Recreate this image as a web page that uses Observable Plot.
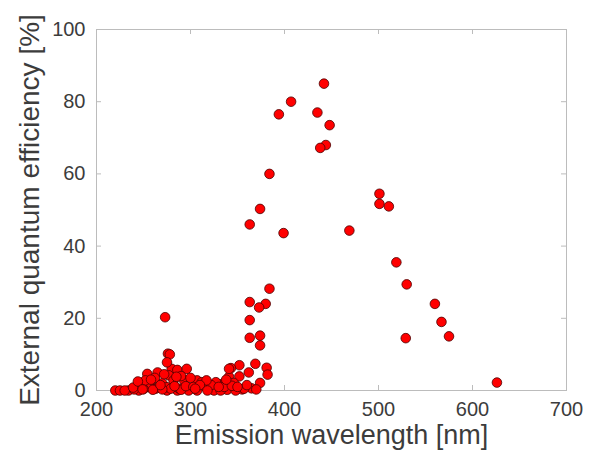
<!DOCTYPE html>
<html>
<head>
<meta charset="utf-8">
<script src="https://cdn.jsdelivr.net/npm/d3@7"></script>
<script src="https://cdn.jsdelivr.net/npm/@observablehq/plot@0.6"></script>
<style>
  html, body { margin: 0; padding: 0; background: #fff; }
  #chart { width: 600px; height: 453px; }
</style>
</head>
<body>
<div id="chart"></div>
<script>
// Emission wavelength [nm]
const wavelength = [
  442, 407, 394, 435, 448, 444, 438, 384, 374, 363,
  399, 469, 501, 501, 511, 519, 530, 560, 567, 575,
  529, 626, 384, 363, 380, 373, 363, 363, 374, 374,
  273, 276, 278, 369, 381, 382, 362, 352, 343, 374,
  365, 341, 352, 335, 346, 313, 328, 300, 339, 355,
  254, 265, 280, 286, 296, 277, 248, 257, 270, 282,
  293, 263, 275, 286, 245, 220, 225, 234, 298, 307,
  275, 245, 256, 266, 275, 279, 288, 307, 312, 320,
  327, 325, 332, 341, 357, 348, 230, 240, 250, 260,
  270, 290, 295, 303, 316, 322, 336, 344, 360, 370,
  262, 290, 268, 252, 239, 244, 283, 317, 310, 305,
  318, 330, 338, 350, 258, 272, 285, 300, 249
];
// External quantum efficiency [%]
const eqe = [
  85, 80, 76.5, 77, 73.5, 68, 67.2, 60, 50.3, 46,
  43.6, 44.3, 54.5, 51.7, 51, 35.5, 29.4, 24, 19, 15,
  14.5, 2.2, 28.2, 24.5, 24, 23, 19.5, 14.6, 15.2, 12.5,
  20.3, 10.2, 10, 7.4, 6.3, 4.4, 5, 7, 6.2, 2.1,
  0.6, 3.8, 3.9, 2, 2.1, 2.1, 1.9, 0.5, 0.2, 0.3,
  4.6, 5, 6, 5.7, 6, 4.2, 1.8, 1.8, 2, 2.8,
  2.9, 0.5, 0, 0, 0, 0, 0, 0, 0, 2.8,
  7.8, 1.4, 0.9, 0.9, 0.9, 0.5, 0.5, 0, 2.3, 0.5,
  2.3, 0, 0, 6, 0.5, 0, 0, 0.3, 0.4, 0.2,
  0.3, 0.2, 1.2, 1, 1, 1.5, 1, 1.3, 1.5, 0.3,
  3.5, 4, 1.5, 2.8, 0.8, 2.5, 1.2, 2.8, 1.5, 0.5,
  0, 1, 3, 1, 3, 4.5, 3.8, 3.5, 0.3
];
const xTicks = [200, 300, 400, 500, 600, 700];
const yTicks = [0, 20, 40, 60, 80, 100];
const xLabel = "Emission wavelength [nm]";
const yLabel = "External quantum efficiency [%]";

const data = wavelength.map((w, i) => ({w, q: eqe[i]}));

const W = 600, H = 453;
const M = {top: 29, right: 34, bottom: 63, left: 96};
const innerW = W - M.left - M.right;
const innerH = H - M.top - M.bottom;
const tickLen = 5;
const axisGray = "#bcbcbc";
const textGray = "#3c3c3c";
const font = "'Liberation Sans', Helvetica, Arial, sans-serif";

const chart = Plot.plot({
  width: W,
  height: H,
  marginTop: M.top,
  marginRight: M.right,
  marginBottom: M.bottom,
  marginLeft: M.left,
  style: {fontFamily: font, color: textGray, background: "#fff"},
  x: {domain: [200, 700]},
  y: {domain: [0, 100]},
  marks: [
    Plot.frame({stroke: axisGray, strokeWidth: 1}),
    // inward ticks (bottom, top, left, right)
    Plot.tickX(xTicks, {x: d => d, insetTop: innerH - tickLen, stroke: axisGray}),
    Plot.tickX(xTicks, {x: d => d, insetBottom: innerH - tickLen, stroke: axisGray}),
    Plot.tickY(yTicks, {y: d => d, insetRight: innerW - tickLen, stroke: axisGray}),
    Plot.tickY(yTicks, {y: d => d, insetLeft: innerW - tickLen, stroke: axisGray}),
    Plot.axisX(xTicks, {tickSize: 0, tickPadding: 11, fontSize: 20, fill: textGray, label: null}),
    Plot.axisY(yTicks, {tickSize: 0, tickPadding: 11, fontSize: 20, fill: textGray, label: null}),
    Plot.dot(data, {x: "w", y: "q", r: 4.8, fill: "#ff0000", stroke: "#4a0000", strokeWidth: 0.8}),
    Plot.text([xLabel], {text: d => d, frameAnchor: "bottom", dy: 45, fontSize: 27, fill: textGray, lineAnchor: "middle", textAnchor: "middle"}),
    Plot.text([yLabel], {text: d => d, frameAnchor: "left", dx: -66, rotate: -90, fontSize: 28, fill: textGray, lineAnchor: "middle", textAnchor: "middle"})
  ]
});
document.getElementById("chart").appendChild(chart);
</script>
</body>
</html>
